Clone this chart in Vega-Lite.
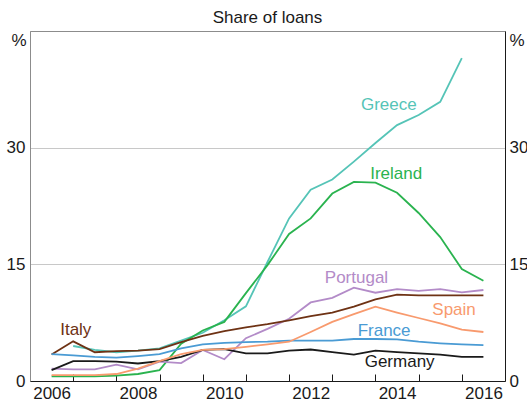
{
  "$schema": "https://vega.github.io/schema/vega-lite/v6.json",
  "width": 475,
  "height": 350,
  "autosize": {"type": "none"},
  "padding": {"left": 30, "top": 31, "right": 22, "bottom": 25},
  "background": "white",
  "config": {
    "font": "Liberation Sans",
    "view": {"stroke": "#8c8c8c", "strokeWidth": 1}
  },
  "title": {"text": "Share of loans", "fontSize": 17, "fontWeight": "normal", "color": "#1a1a1a", "anchor": "middle", "offset": 4},
  "datasets": {
    "series": [
      {"c": "Greece", "t": 2007.0, "v": 4.5}, {"c": "Greece", "t": 2007.5, "v": 4.0}, {"c": "Greece", "t": 2008.0, "v": 3.7}, {"c": "Greece", "t": 2008.5, "v": 3.9}, {"c": "Greece", "t": 2009.0, "v": 4.2}, {"c": "Greece", "t": 2009.5, "v": 5.2}, {"c": "Greece", "t": 2010.0, "v": 6.2}, {"c": "Greece", "t": 2010.5, "v": 7.8}, {"c": "Greece", "t": 2011.0, "v": 9.6}, {"c": "Greece", "t": 2011.5, "v": 15.3}, {"c": "Greece", "t": 2012.0, "v": 20.9}, {"c": "Greece", "t": 2012.5, "v": 24.6}, {"c": "Greece", "t": 2013.0, "v": 25.9}, {"c": "Greece", "t": 2013.5, "v": 28.2}, {"c": "Greece", "t": 2014.0, "v": 30.6}, {"c": "Greece", "t": 2014.5, "v": 32.9}, {"c": "Greece", "t": 2015.0, "v": 34.2}, {"c": "Greece", "t": 2015.5, "v": 35.9}, {"c": "Greece", "t": 2016.0, "v": 41.5},
      {"c": "Ireland", "t": 2006.5, "v": 0.6}, {"c": "Ireland", "t": 2007.0, "v": 0.6}, {"c": "Ireland", "t": 2007.5, "v": 0.6}, {"c": "Ireland", "t": 2008.0, "v": 0.7}, {"c": "Ireland", "t": 2008.5, "v": 0.9}, {"c": "Ireland", "t": 2009.0, "v": 1.4}, {"c": "Ireland", "t": 2009.5, "v": 4.8}, {"c": "Ireland", "t": 2010.0, "v": 6.5}, {"c": "Ireland", "t": 2010.5, "v": 7.6}, {"c": "Ireland", "t": 2011.0, "v": 11.3}, {"c": "Ireland", "t": 2011.5, "v": 14.9}, {"c": "Ireland", "t": 2012.0, "v": 18.9}, {"c": "Ireland", "t": 2012.5, "v": 20.9}, {"c": "Ireland", "t": 2013.0, "v": 24.1}, {"c": "Ireland", "t": 2013.5, "v": 25.6}, {"c": "Ireland", "t": 2014.0, "v": 25.5}, {"c": "Ireland", "t": 2014.5, "v": 24.2}, {"c": "Ireland", "t": 2015.0, "v": 21.6}, {"c": "Ireland", "t": 2015.5, "v": 18.5}, {"c": "Ireland", "t": 2016.0, "v": 14.4}, {"c": "Ireland", "t": 2016.5, "v": 12.9},
      {"c": "Portugal", "t": 2006.5, "v": 1.6}, {"c": "Portugal", "t": 2007.0, "v": 1.5}, {"c": "Portugal", "t": 2007.5, "v": 1.5}, {"c": "Portugal", "t": 2008.0, "v": 2.1}, {"c": "Portugal", "t": 2008.5, "v": 1.5}, {"c": "Portugal", "t": 2009.0, "v": 2.5}, {"c": "Portugal", "t": 2009.5, "v": 2.3}, {"c": "Portugal", "t": 2010.0, "v": 4.0}, {"c": "Portugal", "t": 2010.5, "v": 2.8}, {"c": "Portugal", "t": 2011.0, "v": 5.5}, {"c": "Portugal", "t": 2011.5, "v": 6.7}, {"c": "Portugal", "t": 2012.0, "v": 8.0}, {"c": "Portugal", "t": 2012.5, "v": 10.1}, {"c": "Portugal", "t": 2013.0, "v": 10.7}, {"c": "Portugal", "t": 2013.5, "v": 12.0}, {"c": "Portugal", "t": 2014.0, "v": 11.35}, {"c": "Portugal", "t": 2014.5, "v": 11.8}, {"c": "Portugal", "t": 2015.0, "v": 11.6}, {"c": "Portugal", "t": 2015.5, "v": 11.8}, {"c": "Portugal", "t": 2016.0, "v": 11.4}, {"c": "Portugal", "t": 2016.5, "v": 11.7},
      {"c": "Italy", "t": 2006.5, "v": 3.4}, {"c": "Italy", "t": 2007.0, "v": 5.1}, {"c": "Italy", "t": 2007.5, "v": 3.7}, {"c": "Italy", "t": 2008.0, "v": 3.85}, {"c": "Italy", "t": 2008.5, "v": 3.9}, {"c": "Italy", "t": 2009.0, "v": 4.1}, {"c": "Italy", "t": 2009.5, "v": 5.0}, {"c": "Italy", "t": 2010.0, "v": 5.8}, {"c": "Italy", "t": 2010.5, "v": 6.4}, {"c": "Italy", "t": 2011.0, "v": 6.9}, {"c": "Italy", "t": 2011.5, "v": 7.3}, {"c": "Italy", "t": 2012.0, "v": 7.8}, {"c": "Italy", "t": 2012.5, "v": 8.35}, {"c": "Italy", "t": 2013.0, "v": 8.8}, {"c": "Italy", "t": 2013.5, "v": 9.55}, {"c": "Italy", "t": 2014.0, "v": 10.5}, {"c": "Italy", "t": 2014.5, "v": 11.1}, {"c": "Italy", "t": 2015.0, "v": 11.0}, {"c": "Italy", "t": 2015.5, "v": 11.0}, {"c": "Italy", "t": 2016.0, "v": 11.0}, {"c": "Italy", "t": 2016.5, "v": 11.0},
      {"c": "France", "t": 2006.5, "v": 3.45}, {"c": "France", "t": 2007.0, "v": 3.3}, {"c": "France", "t": 2007.5, "v": 3.1}, {"c": "France", "t": 2008.0, "v": 3.0}, {"c": "France", "t": 2008.5, "v": 3.2}, {"c": "France", "t": 2009.0, "v": 3.45}, {"c": "France", "t": 2009.5, "v": 4.2}, {"c": "France", "t": 2010.0, "v": 4.7}, {"c": "France", "t": 2010.5, "v": 4.9}, {"c": "France", "t": 2011.0, "v": 5.0}, {"c": "France", "t": 2011.5, "v": 5.05}, {"c": "France", "t": 2012.0, "v": 5.2}, {"c": "France", "t": 2012.5, "v": 5.2}, {"c": "France", "t": 2013.0, "v": 5.2}, {"c": "France", "t": 2013.5, "v": 5.4}, {"c": "France", "t": 2014.0, "v": 5.4}, {"c": "France", "t": 2014.5, "v": 5.35}, {"c": "France", "t": 2015.0, "v": 5.05}, {"c": "France", "t": 2015.5, "v": 4.85}, {"c": "France", "t": 2016.0, "v": 4.7}, {"c": "France", "t": 2016.5, "v": 4.6},
      {"c": "Germany", "t": 2006.5, "v": 1.4}, {"c": "Germany", "t": 2007.0, "v": 2.55}, {"c": "Germany", "t": 2007.5, "v": 2.55}, {"c": "Germany", "t": 2008.0, "v": 2.5}, {"c": "Germany", "t": 2008.5, "v": 2.25}, {"c": "Germany", "t": 2009.0, "v": 2.55}, {"c": "Germany", "t": 2009.5, "v": 3.1}, {"c": "Germany", "t": 2010.0, "v": 4.0}, {"c": "Germany", "t": 2010.5, "v": 4.1}, {"c": "Germany", "t": 2011.0, "v": 3.55}, {"c": "Germany", "t": 2011.5, "v": 3.55}, {"c": "Germany", "t": 2012.0, "v": 3.9}, {"c": "Germany", "t": 2012.5, "v": 4.05}, {"c": "Germany", "t": 2013.0, "v": 3.7}, {"c": "Germany", "t": 2013.5, "v": 3.4}, {"c": "Germany", "t": 2014.0, "v": 3.9}, {"c": "Germany", "t": 2014.5, "v": 3.7}, {"c": "Germany", "t": 2015.0, "v": 3.55}, {"c": "Germany", "t": 2015.5, "v": 3.4}, {"c": "Germany", "t": 2016.0, "v": 3.1}, {"c": "Germany", "t": 2016.5, "v": 3.1},
      {"c": "Spain", "t": 2006.5, "v": 0.75}, {"c": "Spain", "t": 2007.0, "v": 0.75}, {"c": "Spain", "t": 2007.5, "v": 0.75}, {"c": "Spain", "t": 2008.0, "v": 0.9}, {"c": "Spain", "t": 2008.5, "v": 1.6}, {"c": "Spain", "t": 2009.0, "v": 2.55}, {"c": "Spain", "t": 2009.5, "v": 3.45}, {"c": "Spain", "t": 2010.0, "v": 4.0}, {"c": "Spain", "t": 2010.5, "v": 4.1}, {"c": "Spain", "t": 2011.0, "v": 4.4}, {"c": "Spain", "t": 2011.5, "v": 4.7}, {"c": "Spain", "t": 2012.0, "v": 5.05}, {"c": "Spain", "t": 2012.5, "v": 6.3}, {"c": "Spain", "t": 2013.0, "v": 7.6}, {"c": "Spain", "t": 2013.5, "v": 8.6}, {"c": "Spain", "t": 2014.0, "v": 9.55}, {"c": "Spain", "t": 2014.5, "v": 8.8}, {"c": "Spain", "t": 2015.0, "v": 8.1}, {"c": "Spain", "t": 2015.5, "v": 7.4}, {"c": "Spain", "t": 2016.0, "v": 6.6}, {"c": "Spain", "t": 2016.5, "v": 6.3}
    ],
    "labels": [
      {"c": "Greece", "t": 2014.31, "v": 35.5},
      {"c": "Ireland", "t": 2014.48, "v": 26.6},
      {"c": "Portugal", "t": 2013.56, "v": 13.2},
      {"c": "Spain", "t": 2015.82, "v": 9.1},
      {"c": "France", "t": 2014.2, "v": 6.4},
      {"c": "Germany", "t": 2014.56, "v": 2.5},
      {"c": "Italy", "t": 2007.06, "v": 6.5}
    ]
  },
  "encoding": {
    "x": {
      "field": "t", "type": "quantitative",
      "scale": {"domain": [2006, 2017], "nice": false, "zero": false},
      "axis": {
        "values": [2006, 2007, 2008, 2009, 2010, 2011, 2012, 2013, 2014, 2015, 2016],
        "labelExpr": "datum.value % 2 === 0 ? datum.value : ''",
        "labelOffset": 21.6, "labelFlush": false, "labelOverlap": false, "labelBound": false,
        "tickSize": -7, "tickColor": "#1a1a1a", "domainColor": "#1a1a1a",
        "labelFontSize": 17, "labelColor": "#1a1a1a", "labelPadding": 11,
        "grid": false, "title": null
      }
    },
    "color": {
      "field": "c", "type": "nominal",
      "scale": {
        "domain": ["Greece", "Ireland", "Portugal", "Italy", "France", "Germany", "Spain"],
        "range": ["#55c4b7", "#2ab34f", "#b38bc8", "#6e3214", "#4a9bd4", "#1a1a1a", "#f89a6e"]
      },
      "legend": null
    }
  },
  "layer": [
    {
      "data": {"name": "series"},
      "mark": {"type": "line", "strokeWidth": 1.8},
      "encoding": {
        "y": {
          "field": "v", "type": "quantitative",
          "scale": {"domain": [0, 45], "nice": false},
          "axis": {
            "orient": "left", "values": [0, 15, 30], "tickSize": 0,
            "grid": true, "gridColor": "#c8c8c8", "domainColor": "#8c8c8c",
            "labelFontSize": 17, "labelColor": "#1a1a1a", "labelPadding": 5,
            "title": "%", "titleAngle": 0, "titleX": -4, "titleY": 14,
            "titleAlign": "right", "titleBaseline": "alphabetic",
            "titleFontWeight": "normal", "titleFontSize": 17, "titleColor": "#1a1a1a"
          }
        }
      }
    },
    {
      "data": {"name": "labels"},
      "mark": {"type": "text", "fontSize": 17, "align": "center", "baseline": "middle"},
      "encoding": {
        "text": {"field": "c"},
        "y": {
          "field": "v", "type": "quantitative",
          "scale": {"domain": [0, 45], "nice": false},
          "axis": {
            "orient": "right", "values": [0, 15, 30], "tickSize": 0,
            "grid": false, "domainColor": "#1a1a1a",
            "labelFontSize": 17, "labelColor": "#1a1a1a", "labelPadding": 4,
            "title": "%", "titleAngle": 0, "titleX": 4, "titleY": 14,
            "titleAlign": "left", "titleBaseline": "alphabetic",
            "titleFontWeight": "normal", "titleFontSize": 17, "titleColor": "#1a1a1a"
          }
        }
      }
    }
  ],
  "resolve": {"axis": {"y": "independent"}}
}
